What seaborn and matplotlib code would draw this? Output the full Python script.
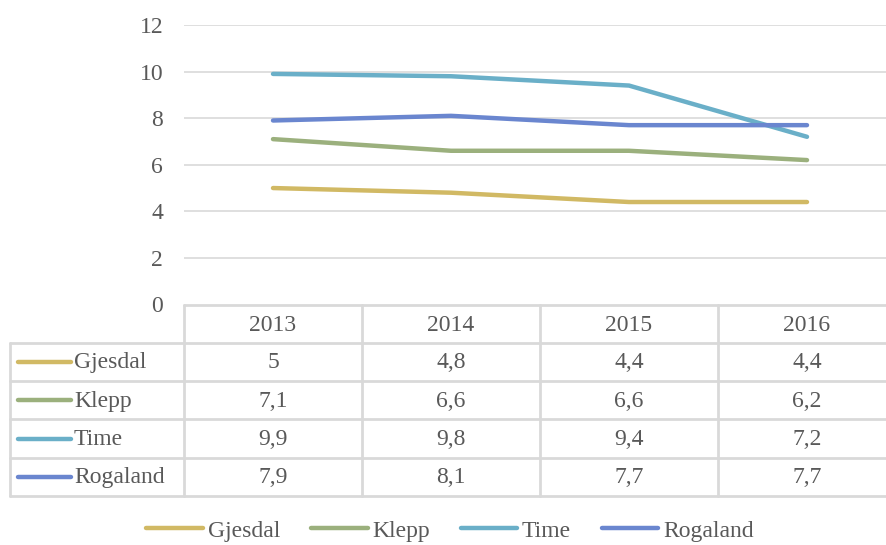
import numpy as np
import pandas as pd
import matplotlib
matplotlib.use("Agg")
import matplotlib.pyplot as plt
import seaborn as sns

years = ["2013", "2014", "2015", "2016"]
series = ["Gjesdal", "Klepp", "Time", "Rogaland"]
gjesdal = [5.0, 4.8, 4.4, 4.4]
klepp = [7.1, 6.6, 6.6, 6.2]
time_ = [9.9, 9.8, 9.4, 7.2]
rogaland = [7.9, 8.1, 7.7, 7.7]
colors = ["#D1B964", "#9BB07D", "#6AAFC8", "#6A86CF"]
y_ticks = [0, 2, 4, 6, 8, 10, 12]

values = [gjesdal, klepp, time_, rogaland]
df = pd.DataFrame({
    "idx": np.tile(np.arange(len(years)), len(series)),
    "serie": np.repeat(series, len(years)),
    "verdi": np.concatenate(values),
})

sns.set_style("white")
plt.rcParams["font.family"] = ["Liberation Serif", "DejaVu Serif"]
TXT = "#595959"
GRID = "#D9D9D9"
FS = 17

fig = plt.figure(figsize=(8.86, 5.45), dpi=100)
W, H = 886, 545
x0, col_w = 184, 178
x_left = 10

def rect(l, t, r, b):
    return [l / W, (H - b) / H, (r - l) / W, (b - t) / H]

def px2col(px):
    # pixel x -> column coordinate (column 0 centred at x0 + col_w/2)
    return (px - x0 - col_w / 2) / col_w

ax = fig.add_axes(rect(x0, 25, x0 + 4 * col_w, 304.5))
sns.lineplot(data=df, x="idx", y="verdi", hue="serie", hue_order=series,
             palette=colors, linewidth=3.2, ax=ax, legend=True)
for ln in ax.lines:
    ln.set_solid_capstyle("round")
ax.set_xlim(-0.5, 3.5)
ax.set_ylim(0, 12)
ax.set_yticks(y_ticks)
ax.set_yticklabels([str(t) for t in y_ticks], fontsize=FS, color=TXT)
ax.set_xticks([])
ax.set_xlabel("")
ax.set_ylabel("")
ax.tick_params(axis="y", length=0, pad=15)
for t in y_ticks[1:]:
    ax.axhline(t, color=GRID, lw=1.2, zorder=0)
for s in ax.spines.values():
    s.set_visible(False)

handles, labels = ax.get_legend_handles_labels()
ax.get_legend().remove()
for h in handles:
    h.set_linewidth(3.2)
    h.set_solid_capstyle("round")
fig.legend(handles, labels, loc="center", bbox_to_anchor=(0.508, 0.026),
           ncol=4, frameon=False, fontsize=FS, labelcolor=TXT,
           handlelength=2.4, handletextpad=0.2, columnspacing=1.3)

# data table under the chart
lab_l = px2col(x_left)
tax = fig.add_axes(rect(x_left, 304.5, x0 + 4 * col_w, 496))
tax.set_xlim(lab_l, 3.5)
tax.set_ylim(5, 0)
tax.axis("off")
lw = 2.0
tax.plot([-0.5, 3.5], [0, 0], color=GRID, lw=lw, clip_on=False)
for r in range(1, 6):
    tax.plot([lab_l, 3.5], [r, r], color=GRID, lw=lw, clip_on=False)
tax.plot([lab_l, lab_l], [1, 5], color=GRID, lw=lw, clip_on=False)
for c in range(len(years)):
    tax.plot([c - 0.5, c - 0.5], [0, 5], color=GRID, lw=lw, clip_on=False)
    tax.text(c, 0.55, years[c], ha="center", va="center", fontsize=FS, color=TXT)
for r, (name, vals, col) in enumerate(zip(series, values, colors), start=1):
    tax.plot([px2col(18), px2col(71)], [r + 0.5, r + 0.5], color=col, lw=3.2,
             solid_capstyle="round")
    tax.text(px2col(74), r + 0.52, name, ha="left", va="center", fontsize=FS, color=TXT)
    for c, v in enumerate(vals):
        s = f"{v:g}".replace(".", ",")
        tax.text(c, r + 0.52, s, ha="center", va="center", fontsize=FS, color=TXT)

fig.savefig("out.png", dpi=100)
